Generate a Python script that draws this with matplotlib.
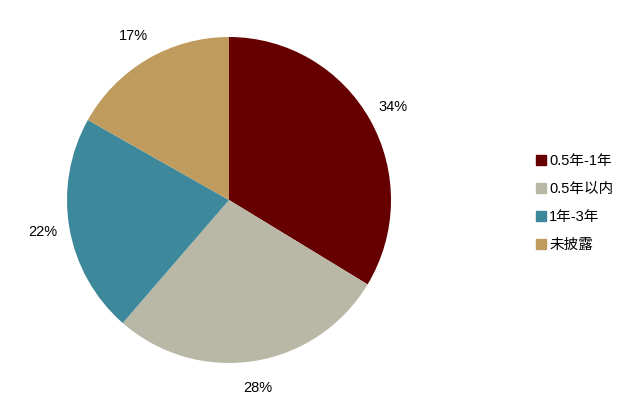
import matplotlib
matplotlib.use("Agg")
import numpy as np
import matplotlib.pyplot as plt
from matplotlib.lines import Line2D

plt.rcParams['font.family'] = ['Liberation Sans', 'Noto Sans CJK SC', 'DejaVu Sans']

categories = ['0.5年-1年', '0.5年以内', '1年-3年', '未披露']
shares = [34, 28, 22, 17]
colors = ['#660000', '#B9B8A6', '#3D889B', '#BF9C5D']

fig = plt.figure(figsize=(6.4, 4.07), dpi=100)
ax = fig.add_axes([67 / 640, 44 / 407, 324 / 640, 326 / 407])

wedges, texts = ax.pie(shares, colors=colors, startangle=90, counterclock=False,
                       wedgeprops=dict(linewidth=0))
# percentage labels outside the pie
for w, v in zip(wedges, shares):
    ang = np.deg2rad((w.theta1 + w.theta2) / 2)
    ax.text(1.165 * np.cos(ang), 1.165 * np.sin(ang), f'{v}%',
            ha='center', va='center', fontsize=10.5, color='black')
ax.set_xlim(-1, 1)
ax.set_ylim(-1, 1)
ax.set_aspect('auto')

handles = [Line2D([], [], marker='s', linestyle='', markersize=7,
                  markerfacecolor=c, markeredgecolor=c) for c in colors]
fig.legend(handles, categories, loc='center left', bbox_to_anchor=(523 / 640, 204 / 407),
           frameon=False, fontsize=10.5, handlelength=0.6, handletextpad=0.3,
           labelspacing=0.95)

fig.savefig('out.png', dpi=100)
